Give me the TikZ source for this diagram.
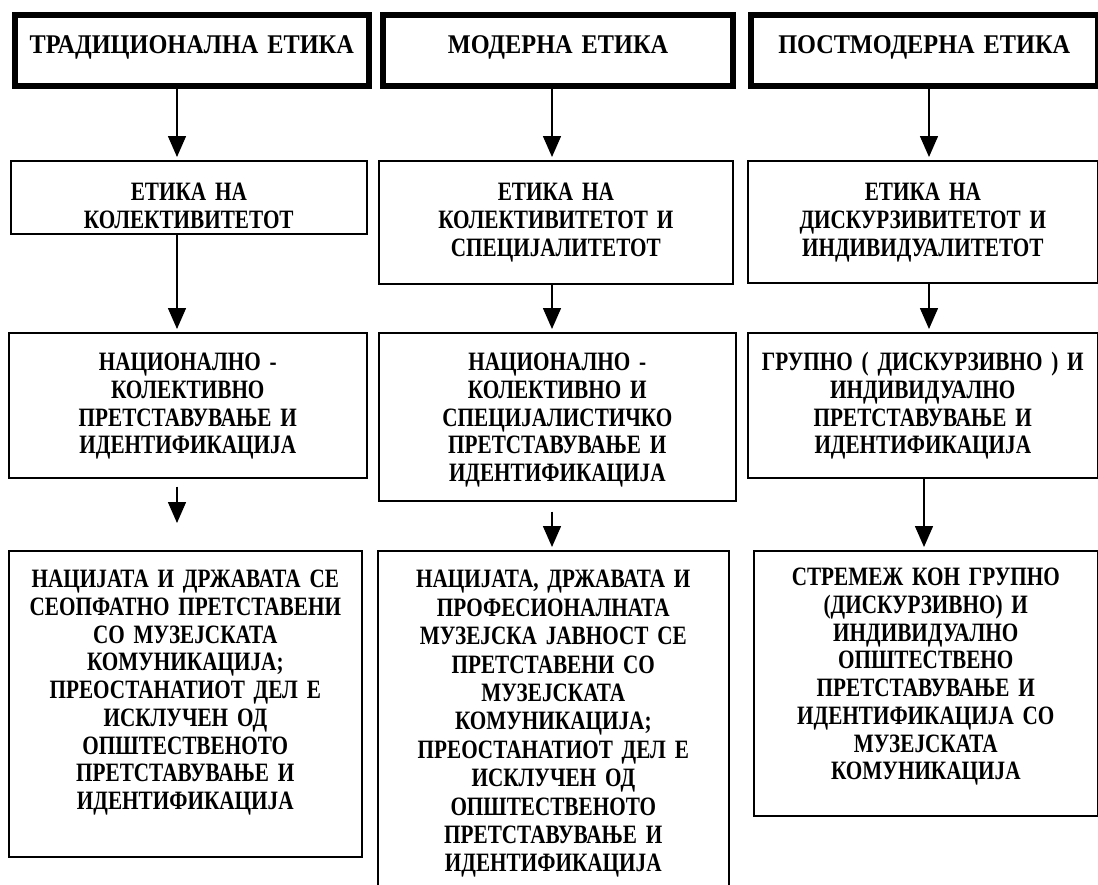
\documentclass[tikz,border=0pt]{standalone}
\usepackage{fontspec}
\setmainfont{Liberation Serif}[FakeStretch=0.8]
\newfontfamily\headfont{Liberation Serif}[FakeStretch=0.9]
\usetikzlibrary{arrows.meta}

\begin{document}
\begin{tikzpicture}[x=1pt,y=-1pt,->,>={Triangle[length=21pt,width=18pt]},shorten >=3pt,line width=1.5pt,
        box/.style={draw,line width=1.6pt,anchor=north west,inner sep=0pt,align=center,
          font=\bfseries\fontsize{26.5}{27.7}\selectfont},
        head box/.style={box,line width=6pt,font=\headfont\bfseries\fontsize{27}{28}\selectfont}]

        \useasboundingbox (0,0) rectangle (1098,884);

        % top row
        \node[head box,text width=354.5pt,text height=38.5pt,text depth=32.5pt] (t1) at (11.5,11.5) {ТРАДИЦИОНАЛНА ЕТИКА};
        \node[head box,text width=350pt,text height=38.5pt,text depth=32.5pt] (t2) at (380,11.5) {МОДЕРНА ЕТИКА};
        \node[head box,text width=346.5pt,text height=38.5pt,text depth=32.5pt] (t3) at (748,11.5) {ПОСТМОДЕРНА ЕТИКА};

        \node[box,text width=356pt,text height=40pt,text depth=33pt] (e1) at (10,160) {ЕТИКА НА\\ КОЛЕКТИВИТЕТОТ};
        \node[box,text width=354pt,text height=40pt,text depth=83pt] (e2) at (378,160) {ЕТИКА НА\\ КОЛЕКТИВИТЕТОТ И\\ СПЕЦИЈАЛИТЕТОТ};
        \node[box,text width=350pt,text height=40pt,text depth=82pt] (e3) at (747,160) {ЕТИКА НА\\ ДИСКУРЗИВИТЕТОТ И\\ ИНДИВИДУАЛИТЕТОТ};

        \node[box,text width=358pt,text height=38pt,text depth=107pt] (p1) at (8,332) {НАЦИОНАЛНО -\\ КОЛЕКТИВНО\\ ПРЕТСТАВУВАЊЕ И\\ ИДЕНТИФИКАЦИЈА};
        \node[box,text width=357pt,text height=38pt,text depth=130pt] (p2) at (378,332) {НАЦИОНАЛНО -\\ КОЛЕКТИВНО И\\ СПЕЦИЈАЛИСТИЧКО\\ ПРЕТСТАВУВАЊЕ И\\ ИДЕНТИФИКАЦИЈА};
        \node[box,text width=350pt,text height=38pt,text depth=107pt] (p3) at (747,332) {ГРУПНО ( ДИСКУРЗИВНО ) И\\ ИНДИВИДУАЛНО\\ ПРЕТСТАВУВАЊЕ И\\ ИДЕНТИФИКАЦИЈА};

        \node[box,text width=353pt,text height=37pt,text depth=269pt] (n1) at (8,550) {НАЦИЈАТА И ДРЖАВАТА СЕ\\ СЕОПФАТНО ПРЕТСТАВЕНИ\\ СО МУЗЕЈСКАТА\\ КОМУНИКАЦИЈА;\\ ПРЕОСТАНАТИОТ ДЕЛ Е\\ ИСКЛУЧЕН ОД\\ ОПШТЕСТВЕНОТО\\ ПРЕТСТАВУВАЊЕ И\\ ИДЕНТИФИКАЦИЈА};
        \node[box,text width=351pt,text height=37pt,text depth=313pt,font=\bfseries\fontsize{26.5}{28.4}\selectfont] (n2) at (377,550) {НАЦИЈАТА, ДРЖАВАТА И\\ ПРОФЕСИОНАЛНАТА\\ МУЗЕЈСКА ЈАВНОСТ СЕ\\ ПРЕТСТАВЕНИ СО\\ МУЗЕЈСКАТА\\ КОМУНИКАЦИЈА;\\ ПРЕОСТАНАТИОТ ДЕЛ Е\\ ИСКЛУЧЕН ОД\\ ОПШТЕСТВЕНОТО\\ ПРЕТСТАВУВАЊЕ И\\ ИДЕНТИФИКАЦИЈА};
        \node[box,text width=344pt,text height=35pt,text depth=230pt] (n3) at (753,550) {СТРЕМЕЖ КОН ГРУПНО\\ (ДИСКУРЗИВНО) И\\ ИНДИВИДУАЛНО\\ ОПШТЕСТВЕНО\\ ПРЕТСТАВУВАЊЕ И\\ ИДЕНТИФИКАЦИЈА СО\\ МУЗЕЈСКАТА\\ КОМУНИКАЦИЈА};

        % arrow columns
        \coordinate (c1) at (177,0);
        \coordinate (c2) at (552,0);
        \coordinate (c3) at (929,0);
        \coordinate (c4) at (924,0);

        \path
        (t1.south -| c1) edge (e1.north -| c1)
        (e1.south -| c1) edge (p1.north -| c1)
        (p1.south -| c1) edge[shorten <=8pt,shorten >=27pt] (n1.north -| c1)
        (t2.south -| c2) edge (e2.north -| c2)
        (e2.south -| c2) edge (p2.north -| c2)
        (p2.south -| c2) edge[shorten <=10pt] (n2.north -| c2)
        (t3.south -| c3) edge (e3.north -| c3)
        (e3.south -| c3) edge (p3.north -| c3)
        (p3.south -| c4) edge (n3.north -| c4);
      \end{tikzpicture}
\end{document}
